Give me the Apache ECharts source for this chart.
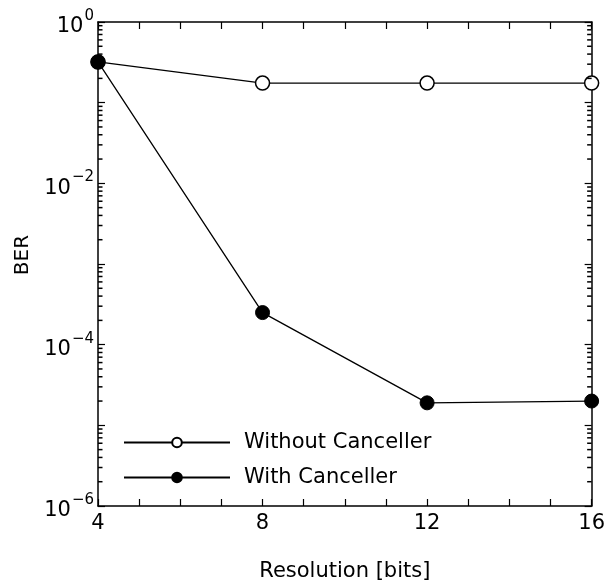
<!DOCTYPE html>
<html>
<head>
<meta charset="utf-8">
<script src="https://cdn.jsdelivr.net/npm/echarts@6/dist/echarts.min.js"></script>
<style>
html,body{margin:0;padding:0;background:#fff;}
#chart{width:608px;height:588px;}
</style>
</head>
<body>
<div id="chart"></div>
<script>
// ---- data ----
const resolution = [4, 8, 12, 16];
const berWithout = [0.32, 0.175, 0.175, 0.175];
const berWith = [0.32, 2.5e-4, 1.9e-5, 2.0e-5];
const seriesNames = ['Without Canceller', 'With Canceller'];
const xTickLabels = [4, 8, 12, 16];
const yLabelExponents = [0, -2, -4, -6];
const yDecades = [0, -1, -2, -3, -4, -5, -6];
const minorMantissas = [2, 3, 4, 5, 6, 7, 8, 9];
const xMin = 4, xMax = 16;

const FONT = 'DejaVu Sans';
const yMinorValues = [];
yDecades.slice(1).forEach(e => minorMantissas.forEach(m => yMinorValues.push(m * Math.pow(10, e))));

function supLabel(v) {
  const e = Math.round(Math.log10(v));
  if (yLabelExponents.indexOf(e) < 0) return '';
  const s = e < 0 ? '\u2212' + (-e) : String(e);
  return '{b|10}{s|' + s + '}';
}

const axisLineStyle = { show: true, onZero: false, lineStyle: { color: '#000', width: 1.5 } };
const tickStyle = { color: '#000', width: 1.2 };
const yBase = { type: 'log', logBase: 10, min: 1e-6, max: 1, splitLine: { show: false } };

// minor log ticks, placed through the y axis scale
function minorTickSeries(xVal, offset) {
  return {
    type: 'scatter', xAxisIndex: 0, yAxisIndex: 0, silent: true, clip: false,
    data: yMinorValues.map(v => [xVal, v]),
    symbol: 'rect', symbolSize: [4.5, 1.5], symbolOffset: [offset, 0],
    itemStyle: { color: '#000', opacity: 1 }, z: 5
  };
}

const chart = echarts.init(document.getElementById('chart'), null, { renderer: 'canvas' });
chart.setOption({
  animation: false,
  backgroundColor: '#fff',
  grid: { left: 98, right: 11, top: 22, bottom: 82, containLabel: false },
  legend: {
    orient: 'vertical',
    left: 123,
    top: 432,
    padding: 0,
    itemWidth: 106,
    itemHeight: 12,
    itemGap: 14,
    data: seriesNames,
    textStyle: { fontFamily: FONT, fontSize: 21, color: '#000', padding: [0, 0, 0, 9] },
    selectedMode: false
  },
  xAxis: [
    {
      type: 'value', position: 'bottom', min: xMin, max: xMax, interval: 1,
      axisLine: axisLineStyle,
      axisTick: { inside: true, length: 7, lineStyle: tickStyle },
      axisLabel: { customValues: xTickLabels, margin: 7, fontFamily: FONT, fontSize: 21, color: '#000' },
      splitLine: { show: false },
      name: 'Resolution [bits]', nameLocation: 'middle', nameGap: 55,
      nameTextStyle: { fontFamily: FONT, fontSize: 21, color: '#000' }
    },
    {
      type: 'value', position: 'top', min: xMin, max: xMax, interval: 1,
      axisLine: axisLineStyle,
      axisTick: { inside: true, length: 7, lineStyle: tickStyle },
      axisLabel: { show: false },
      splitLine: { show: false }
    }
  ],
  yAxis: [
    Object.assign({}, yBase, {
      position: 'left',
      axisLine: axisLineStyle,
      axisTick: { inside: true, length: 7, interval: 0, lineStyle: tickStyle },
      axisLabel: {
        interval: 0, margin: 4, formatter: supLabel,
        rich: {
          b: { fontFamily: FONT, fontSize: 21, color: '#000', verticalAlign: 'bottom', padding: [10, 0, 0, 0] },
          s: { fontFamily: FONT, fontSize: 15, color: '#000', verticalAlign: 'top', padding: [2, 0, 0, 1] }
        }
      },
      name: 'BER', nameLocation: 'middle', nameGap: 65,
      nameTextStyle: { fontFamily: FONT, fontSize: 20, color: '#000', padding: [0, 0, 0, 18] }
    }),
    Object.assign({}, yBase, {
      position: 'right',
      axisLine: axisLineStyle,
      axisTick: { inside: true, length: 7, interval: 0, lineStyle: tickStyle },
      axisLabel: { show: false }
    })
  ],
  series: [
    minorTickSeries(xMin, 2.25),
    minorTickSeries(xMax, -2.25),
    {
      name: seriesNames[0], type: 'line', xAxisIndex: 0, yAxisIndex: 0,
      data: resolution.map((x, i) => [x, berWithout[i]]),
      symbol: 'circle', symbolSize: 14,
      lineStyle: { color: '#000', width: 1.3 },
      itemStyle: { color: '#fff', borderColor: '#000', borderWidth: 1.5 },
      z: 3
    },
    {
      name: seriesNames[1], type: 'line', xAxisIndex: 0, yAxisIndex: 0,
      data: resolution.map((x, i) => [x, berWith[i]]),
      symbol: 'circle', symbolSize: 14,
      lineStyle: { color: '#000', width: 1.3 },
      itemStyle: { color: '#000', borderColor: '#000', borderWidth: 1 },
      z: 4
    }
  ]
});
</script>
</body>
</html>
